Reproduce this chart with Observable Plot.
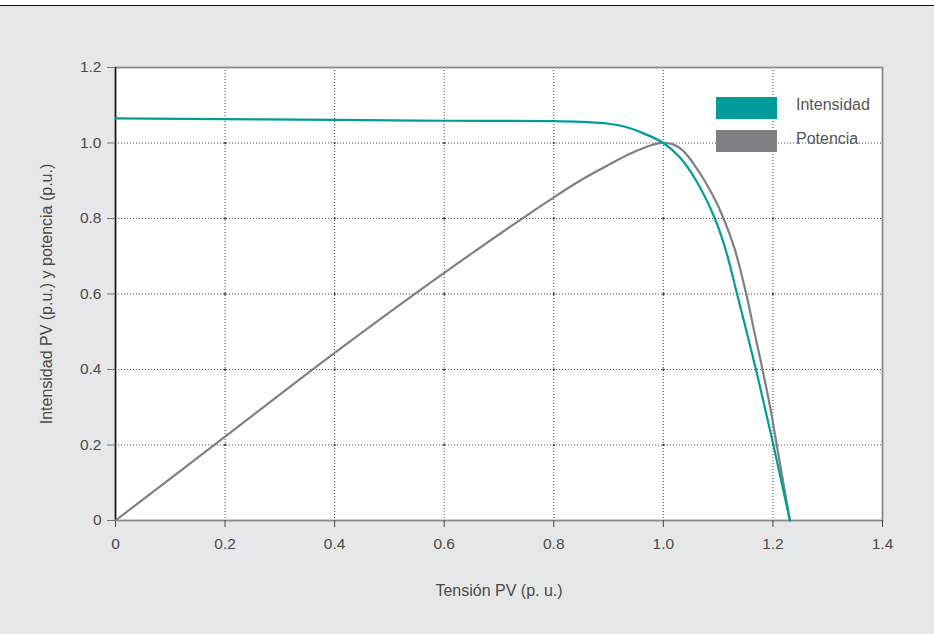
<!DOCTYPE html>
<html>
<head>
<meta charset="utf-8">
<script src="https://cdn.jsdelivr.net/npm/d3@7"></script>
<script src="https://cdn.jsdelivr.net/npm/@observablehq/plot@0.6"></script>
<style>
  html, body { margin: 0; padding: 0; }
  body { width: 934px; height: 634px; overflow: hidden; background: #e6e7e8; font-family: "Liberation Sans", Arial, sans-serif; }
  #wrap { position: relative; width: 934px; height: 634px; }
  #topstrip { position: absolute; left: 0; top: 0; width: 934px; height: 5px; background: #fff; border-bottom: 1.6px solid #111; }
  #chart { position: absolute; left: 0; top: 0; }
  .legend { position: absolute; left: 716px; font-size: 16px; color: #555; }
  .legend .sw { position: absolute; left: 0; width: 61px; height: 22px; }
  .legend .lb { position: absolute; left: 80px; white-space: nowrap; line-height: 18px; }
  #chart svg g[aria-label="x-axis label"] text, #chart svg g[aria-label="y-axis label"] text { font-size: 16px; }
</style>
</head>
<body>
<div id="wrap">
  <div id="topstrip"></div>
  <div id="chart"></div>
  <div class="legend" style="top:97px">
    <div class="sw" style="background:#009c9c"></div>
    <div class="lb" style="top:-1px">Intensidad</div>
  </div>
  <div class="legend" style="top:130px">
    <div class="sw" style="background:#7f8084"></div>
    <div class="lb" style="top:0px">Potencia</div>
  </div>
</div>
<script>
const xTicks = [0, 0.2, 0.4, 0.6, 0.8, 1.0, 1.2, 1.4];
const yTicks = [0, 0.2, 0.4, 0.6, 0.8, 1.0, 1.2];
const xGrid = [0.2, 0.4, 0.6, 0.8, 1.0, 1.2];
const yGrid = [0.2, 0.4, 0.6, 0.8, 1.0];

// Intensidad (p.u.) vs Tensión (p.u.)
const voltI =     [0, 0.2, 0.4, 0.6, 0.8, 0.85, 0.9, 0.93, 0.958, 1.0, 1.03, 1.06, 1.094, 1.114, 1.1345, 1.152, 1.169, 1.185, 1.2, 1.216, 1.231];
const intensity = [1.065, 1.063, 1.061, 1.059, 1.058, 1.056, 1.051, 1.043, 1.029, 1.0, 0.962, 0.90, 0.80, 0.716, 0.60, 0.50, 0.40, 0.30, 0.205, 0.10, 0];

// Potencia (p.u.) vs Tensión (p.u.)
const voltP = [0, 0.2, 0.4, 0.6, 0.8, 0.85, 0.9, 0.94, 0.97, 0.99, 1.005, 1.02, 1.035, 1.06, 1.09, 1.11, 1.13, 1.151, 1.166, 1.181, 1.195, 1.207, 1.219, 1.231];
const power = [0, 0.222, 0.444, 0.656, 0.856, 0.902, 0.942, 0.972, 0.99, 0.999, 1.0, 0.995, 0.981, 0.935, 0.862, 0.80, 0.72, 0.602, 0.50, 0.40, 0.30, 0.20, 0.10, 0];

const seriesI = voltI.map((v, i) => ({v, val: intensity[i]}));
const seriesP = voltP.map((v, i) => ({v, val: power[i]}));
const crosses = xGrid.flatMap(x => yGrid.map(y => ({x, y})));

const fmt = d => d === 0 ? "0" : d3.format(".1f")(d);

const chart = Plot.plot({
  width: 934,
  height: 634,
  marginLeft: 115,
  marginRight: 52,
  marginTop: 67,
  marginBottom: 114,
  style: {background: "transparent", fontFamily: "Liberation Sans, Arial, sans-serif", fontSize: "15px", color: "#4a4a4a"},
  x: {domain: [0, 1.4]},
  y: {domain: [0, 1.2]},
  marks: [
    Plot.frame({fill: "white", stroke: "none"}),
    Plot.ruleX(xGrid, {stroke: "#444", strokeWidth: 1, strokeDasharray: "1,2"}),
    Plot.ruleY(yGrid, {stroke: "#444", strokeWidth: 1, strokeDasharray: "1,2"}),
    Plot.dot(crosses, {x: "x", y: "y", r: 1.1, fill: "#333", stroke: "none"}),
    Plot.frame({stroke: "#8a8a8a", strokeWidth: 1.8}),
    Plot.ruleX([0], {stroke: "#111", strokeWidth: 1.4}),
    Plot.axisX({ticks: xTicks, tickFormat: fmt, tickSize: 7, tickPadding: 10, stroke: "#444", fill: "#4a4a4a", fontSize: 15.5,
      label: "Tensión PV (p. u.)", labelAnchor: "center", labelArrow: "none", labelOffset: 75}),
    Plot.axisY({ticks: yTicks, tickFormat: fmt, tickSize: 8, tickPadding: 6, stroke: "#777", fill: "#4a4a4a", fontSize: 15.5,
      label: "Intensidad PV (p.u.) y potencia (p.u.)", labelAnchor: "center", labelArrow: "none", labelOffset: 75}),
    Plot.line(seriesP, {x: "v", y: "val", stroke: "#7f8084", strokeWidth: 2.2, curve: "catmull-rom"}),
    Plot.line(seriesI, {x: "v", y: "val", stroke: "#009c9c", strokeWidth: 2.2, curve: "catmull-rom"})
  ]
});
document.getElementById("chart").appendChild(chart);
</script>
</body>
</html>
